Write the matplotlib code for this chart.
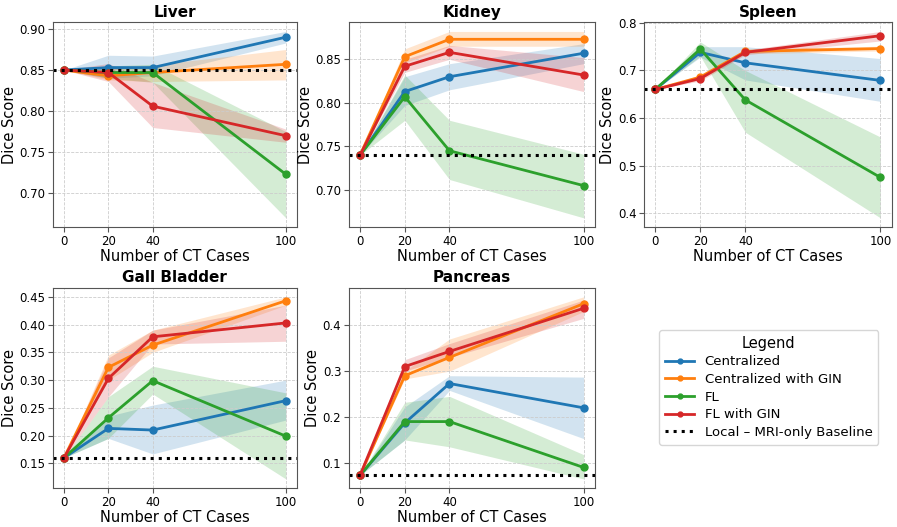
import numpy as np
import matplotlib
matplotlib.use('Agg')
import matplotlib.pyplot as plt

x = [0, 20, 40, 100]
organs = ['Liver', 'Kidney', 'Spleen', 'Gall Bladder', 'Pancreas']
methods = ['Centralized', 'Centralized with GIN', 'FL', 'FL with GIN']
colors = ['#1f77b4', '#ff7f0e', '#2ca02c', '#d62728']
baseline = [0.85, 0.74, 0.66, 0.16, 0.073]

# mean per organ, per method
liver_mean = [[0.85, 0.853, 0.853, 0.890],
              [0.85, 0.843, 0.847, 0.857],
              [0.85, 0.847, 0.847, 0.723],
              [0.85, 0.847, 0.806, 0.770]]
liver_low = [[0.85, 0.840, 0.843, 0.883],
             [0.85, 0.838, 0.836, 0.838],
             [0.85, 0.840, 0.835, 0.670],
             [0.85, 0.836, 0.780, 0.762]]
liver_high = [[0.85, 0.868, 0.867, 0.897],
              [0.85, 0.850, 0.856, 0.875],
              [0.85, 0.855, 0.857, 0.775],
              [0.85, 0.858, 0.835, 0.778]]

kidney_mean = [[0.74, 0.813, 0.830, 0.857],
               [0.74, 0.853, 0.873, 0.873],
               [0.74, 0.807, 0.745, 0.705],
               [0.74, 0.842, 0.858, 0.832]]
kidney_low = [[0.74, 0.797, 0.815, 0.845],
              [0.74, 0.846, 0.865, 0.865],
              [0.74, 0.780, 0.712, 0.668],
              [0.74, 0.835, 0.850, 0.813]]
kidney_high = [[0.74, 0.830, 0.845, 0.868],
               [0.74, 0.862, 0.882, 0.882],
               [0.74, 0.832, 0.780, 0.741],
               [0.74, 0.850, 0.866, 0.852]]

spleen_mean = [[0.66, 0.738, 0.716, 0.679],
               [0.66, 0.686, 0.740, 0.746],
               [0.66, 0.745, 0.638, 0.475],
               [0.66, 0.683, 0.738, 0.773]]
spleen_low = [[0.66, 0.728, 0.680, 0.635],
              [0.66, 0.681, 0.735, 0.741],
              [0.66, 0.730, 0.570, 0.390],
              [0.66, 0.678, 0.733, 0.762]]
spleen_high = [[0.66, 0.750, 0.750, 0.725],
               [0.66, 0.691, 0.745, 0.751],
               [0.66, 0.760, 0.700, 0.560],
               [0.66, 0.688, 0.743, 0.782]]

gall_mean = [[0.16, 0.213, 0.210, 0.263],
             [0.16, 0.323, 0.363, 0.443],
             [0.16, 0.232, 0.299, 0.199],
             [0.16, 0.303, 0.378, 0.403]]
gall_low = [[0.16, 0.195, 0.167, 0.228],
            [0.16, 0.300, 0.350, 0.435],
            [0.16, 0.195, 0.275, 0.122],
            [0.16, 0.270, 0.365, 0.370]]
gall_high = [[0.16, 0.235, 0.255, 0.300],
             [0.16, 0.345, 0.390, 0.450],
             [0.16, 0.270, 0.325, 0.277],
             [0.16, 0.340, 0.390, 0.435]]

pancreas_mean = [[0.073, 0.187, 0.273, 0.220],
                 [0.073, 0.290, 0.330, 0.447],
                 [0.073, 0.190, 0.190, 0.090],
                 [0.073, 0.310, 0.343, 0.437]]
pancreas_low = [[0.073, 0.150, 0.258, 0.153],
                [0.073, 0.283, 0.300, 0.430],
                [0.073, 0.150, 0.135, 0.065],
                [0.073, 0.300, 0.330, 0.415]]
pancreas_high = [[0.073, 0.222, 0.290, 0.287],
                 [0.073, 0.300, 0.370, 0.462],
                 [0.073, 0.232, 0.245, 0.118],
                 [0.073, 0.325, 0.360, 0.455]]

means = [liver_mean, kidney_mean, spleen_mean, gall_mean, pancreas_mean]
lows = [liver_low, kidney_low, spleen_low, gall_low, pancreas_low]
highs = [liver_high, kidney_high, spleen_high, gall_high, pancreas_high]

fig = plt.figure(figsize=(8.97, 5.27), dpi=100)
boxes = [[0.059, 0.569, 0.272, 0.389],
         [0.389, 0.569, 0.274, 0.389],
         [0.718, 0.569, 0.276, 0.389],
         [0.059, 0.074, 0.272, 0.380],
         [0.389, 0.074, 0.274, 0.380]]

handles = []
for i, organ in enumerate(organs):
    ax = fig.add_axes(boxes[i])
    for j, m in enumerate(methods):
        ax.fill_between(x, lows[i][j], highs[i][j], color=colors[j], alpha=0.2, linewidth=0)
        h, = ax.plot(x, means[i][j], '-o', color=colors[j], lw=2, ms=5, label=m)
        if i == 0:
            handles.append(h)
    b = ax.axhline(baseline[i], color='black', ls=':', lw=2.2, label='Local – MRI-only Baseline')
    if i == 0:
        handles.append(b)
    ax.set_title(organ, fontsize=11, fontweight='bold', pad=4)
    ax.set_xlabel('Number of CT Cases', fontsize=10.5, labelpad=1)
    ax.set_ylabel('Dice Score', fontsize=10.5, labelpad=2)
    ax.set_xticks(x)
    ax.tick_params(labelsize=8.5, color='#555555', length=3.5, pad=2)
    ax.grid(True, ls='--', color='#cccccc', lw=0.6)
    for s in ax.spines.values():
        s.set_color('#555555')

leg = fig.legend(handles=handles, labels=methods + ['Local – MRI-only Baseline'],
                 loc='center', bbox_to_anchor=(0.857, 0.265), title='Legend',
                 fontsize=9.5, title_fontsize=10.5, markerscale=0.7,
                 handlelength=2.2, labelspacing=0.35, borderpad=0.45)
leg.get_frame().set_edgecolor('#cccccc')

fig.savefig('out.png', dpi=100)
